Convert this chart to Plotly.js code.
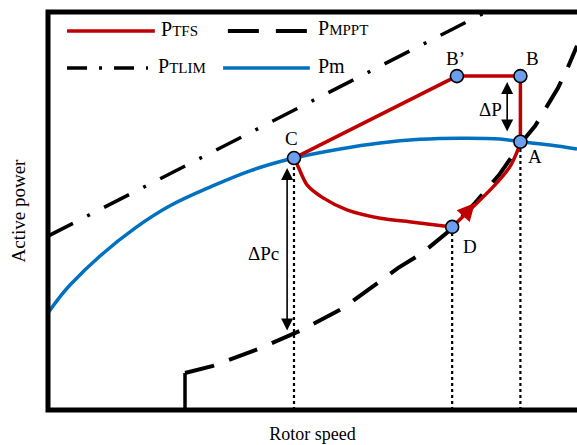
<!DOCTYPE html>
<html>
<head>
<meta charset="utf-8">
<script src="https://cdn.plot.ly/plotly-3.0.1.min.js"></script>
<style>html,body{margin:0;padding:0;background:#fff}#chart{width:577px;height:445px}</style>
</head>
<body>
<div id="chart"></div>
<script>
// Schematic data (arbitrary units, 0-100 on both axes)
const speedPm = [0, 2.0, 4.16, 9.83, 16.45, 23.06, 30.62, 38.19, 46.5, 55.2, 62.76, 70.32, 77.88, 85.44, 89.3, 94.9, 100];
const powerPm = [24.4, 28.0, 31.4, 38.7, 45.7, 51.3, 56.0, 60.1, 63.3, 65.6, 67.1, 68.0, 68.3, 68.1, 67.4, 66.6, 65.6];

const speedMpptStep = [25.9, 25.9];
const powerMpptStep = [0, 9.3];
const speedMppt = [25.9, 31.2, 39.7, 48.0, 55.8, 66.2, 70.7, 75.4, 76.4, 80.7, 85.4, 89.5, 92.1, 94.3, 96.4, 98.3, 100];
const powerMppt = [9.3, 11.1, 15.3, 20.1, 25.6, 35.7, 39.4, 44.5, 46.0, 52.0, 59.3, 67.2, 71.4, 76.1, 80.9, 86.2, 91.5];

const speedTlim = [0, 82.8];
const powerTlim = [43.7, 100];

// TFS path: C -> B' -> B -> A (straight), A -> D (falling along MPPT), D -> C (recovery)
const speedTfsStraight = [46.5, 77.3, 89.3, 89.3];
const powerTfsStraight = [63.3, 83.9, 83.9, 67.4];
const speedTfsAD = [89.3, 88.8, 87.3, 84.1, 80.3, 76.4];
const powerTfsAD = [67.4, 65.3, 61.1, 56.0, 51.0, 46.0];
const speedTfsDC = [76.4, 69.0, 62.8, 56.5, 52.0, 49.0, 47.3, 46.5];
const powerTfsDC = [46.0, 47.2, 48.2, 50.3, 53.3, 56.5, 61.1, 63.3];

const pointNames = ['C', 'B\u2019', 'B', 'A', 'D'];
const pointSpeed = [46.5, 77.3, 89.3, 89.3, 76.4];
const pointPower = [63.3, 83.9, 83.9, 67.4, 46.0];
const dropPoints = ['C', 'D', 'A'];

const legendNames = ['P<span style="font-size:15px">TFS</span>', 'P<span style="font-size:15px">MPPT</span>',
                     'P<span style="font-size:15px">TLIM</span>', 'Pm'];

const RED = '#C00000', BLUE = '#0070C0', PT = '#6E9FEF';
const FONT = 'Liberation Serif, Times New Roman, serif';

// vertical dotted drop lines from operating points
const dropX = [], dropY = [];
dropPoints.forEach(n => {
  const i = pointNames.indexOf(n);
  dropX.push(pointSpeed[i], pointSpeed[i], null);
  dropY.push(0, pointPower[i], null);
});

const traces = [
  {x: dropX, y: dropY, mode: 'lines', line: {color: '#000', width: 2.2, dash: '3px,3px'}, hoverinfo: 'skip'},
  {x: speedTlim, y: powerTlim, mode: 'lines', line: {color: '#000', width: 3.5, dash: '28px,16px,3px,16px'}},
  {x: speedMpptStep, y: powerMpptStep, mode: 'lines', line: {color: '#000', width: 3.5}},
  {x: speedMppt, y: powerMppt, mode: 'lines', line: {color: '#000', width: 4, dash: '30px,16px'}},
  {x: speedPm, y: powerPm, mode: 'lines', line: {color: BLUE, width: 3.5, shape: 'spline', smoothing: 1}},
  {x: speedTfsStraight, y: powerTfsStraight, mode: 'lines', line: {color: RED, width: 3.5}},
  {x: speedTfsAD, y: powerTfsAD, mode: 'lines', line: {color: RED, width: 3.5, shape: 'spline', smoothing: 0.7}},
  {x: speedTfsDC, y: powerTfsDC, mode: 'lines', line: {color: RED, width: 3.5, shape: 'spline', smoothing: 0.8}},
  {x: pointSpeed, y: pointPower, mode: 'markers', marker: {size: 13, color: PT, line: {color: '#000', width: 1.6}}}
];
traces.forEach(t => t.showlegend = false);

const labelPos = {'C': [46.1, 68.3], 'B\u2019': [77.1, 88.2], 'B': [91.5, 88.2], 'A': [92.1, 63.8], 'D': [79.8, 41.0]};
const annotations = pointNames.map(n => ({
  x: labelPos[n][0], y: labelPos[n][1], text: n, showarrow: false,
  font: {family: FONT, size: 19, color: '#000'}
}));

// double arrows
annotations.push({x: 86.8, y: 82.4, ax: 86.8, ay: 69.6, axref: 'x', ayref: 'y', text: '', showarrow: true,
  arrowside: 'end+start', arrowhead: 2, startarrowhead: 2, arrowsize: 1.5, startarrowsize: 1.5, arrowwidth: 1.6, arrowcolor: '#000', standoff: 0, startstandoff: 0});
annotations.push({x: 45.2, y: 60.8, ax: 45.2, ay: 19.6, axref: 'x', ayref: 'y', text: '', showarrow: true,
  arrowside: 'end+start', arrowhead: 2, startarrowhead: 2, arrowsize: 1.5, startarrowsize: 1.5, arrowwidth: 1.6, arrowcolor: '#000', standoff: 0, startstandoff: 0});
annotations.push({x: 83.6, y: 75.4, text: '\u0394P', showarrow: false, font: {family: FONT, size: 19, color: '#000'}});
annotations.push({x: 40.8, y: 39.4, text: '\u0394Pc', showarrow: false, font: {family: FONT, size: 19, color: '#000'}});
// red direction arrow on D -> A
annotations.push({x: 80.7, y: 52.0, ax: 78.6, ay: 48.9, axref: 'x', ayref: 'y', text: '', showarrow: true,
  arrowhead: 2, arrowsize: 1.0, arrowwidth: 3.5, arrowcolor: RED, standoff: 0, startstandoff: 0});

// frame and manual legend
const shapes = [
  {type: 'path', xref: 'paper', yref: 'paper', path: 'M1,1 L0,1 L0,0 L1,0', line: {color: '#000', width: 5}},
  {type: 'line', xref: 'paper', yref: 'paper', x0: 0.036, x1: 0.202, y0: 0.952, y1: 0.952, line: {color: RED, width: 3.5}},
  {type: 'line', xref: 'paper', yref: 'paper', x0: 0.340, x1: 0.492, y0: 0.952, y1: 0.952, line: {color: '#000', width: 4, dash: '31px,17px'}},
  {type: 'line', xref: 'paper', yref: 'paper', x0: 0.036, x1: 0.189, y0: 0.859, y1: 0.859, line: {color: '#000', width: 3.5, dash: '20px,12px,3px,12px'}},
  {type: 'line', xref: 'paper', yref: 'paper', x0: 0.331, x1: 0.495, y0: 0.859, y1: 0.859, line: {color: BLUE, width: 3.5}}
];
const legendPos = [[0.210, 0.957], [0.507, 0.960], [0.204, 0.864], [0.507, 0.864]];
legendNames.forEach((t, i) => annotations.push({
  xref: 'paper', yref: 'paper', x: legendPos[i][0], y: legendPos[i][1], xanchor: 'left', yanchor: 'middle',
  text: t, showarrow: false, font: {family: FONT, size: 20, color: '#000'}
}));

const layout = {
  width: 577, height: 445,
  margin: {l: 48, r: 0, t: 12, b: 35},
  paper_bgcolor: '#fff', plot_bgcolor: '#fff',
  showlegend: false,
  xaxis: {range: [0, 100], showgrid: false, zeroline: false, showticklabels: false, ticks: '', showline: false,
          title: {text: 'Rotor speed', font: {family: FONT, size: 18, color: '#000'}, standoff: 17}},
  yaxis: {range: [0, 100], showgrid: false, zeroline: false, showticklabels: false, ticks: '', showline: false,
          title: {text: 'Active power', font: {family: FONT, size: 19, color: '#000'}, standoff: 16}},
  annotations: annotations,
  shapes: shapes
};

Plotly.newPlot('chart', traces, layout, {displayModeBar: false, staticPlot: true});
</script>
</body>
</html>
